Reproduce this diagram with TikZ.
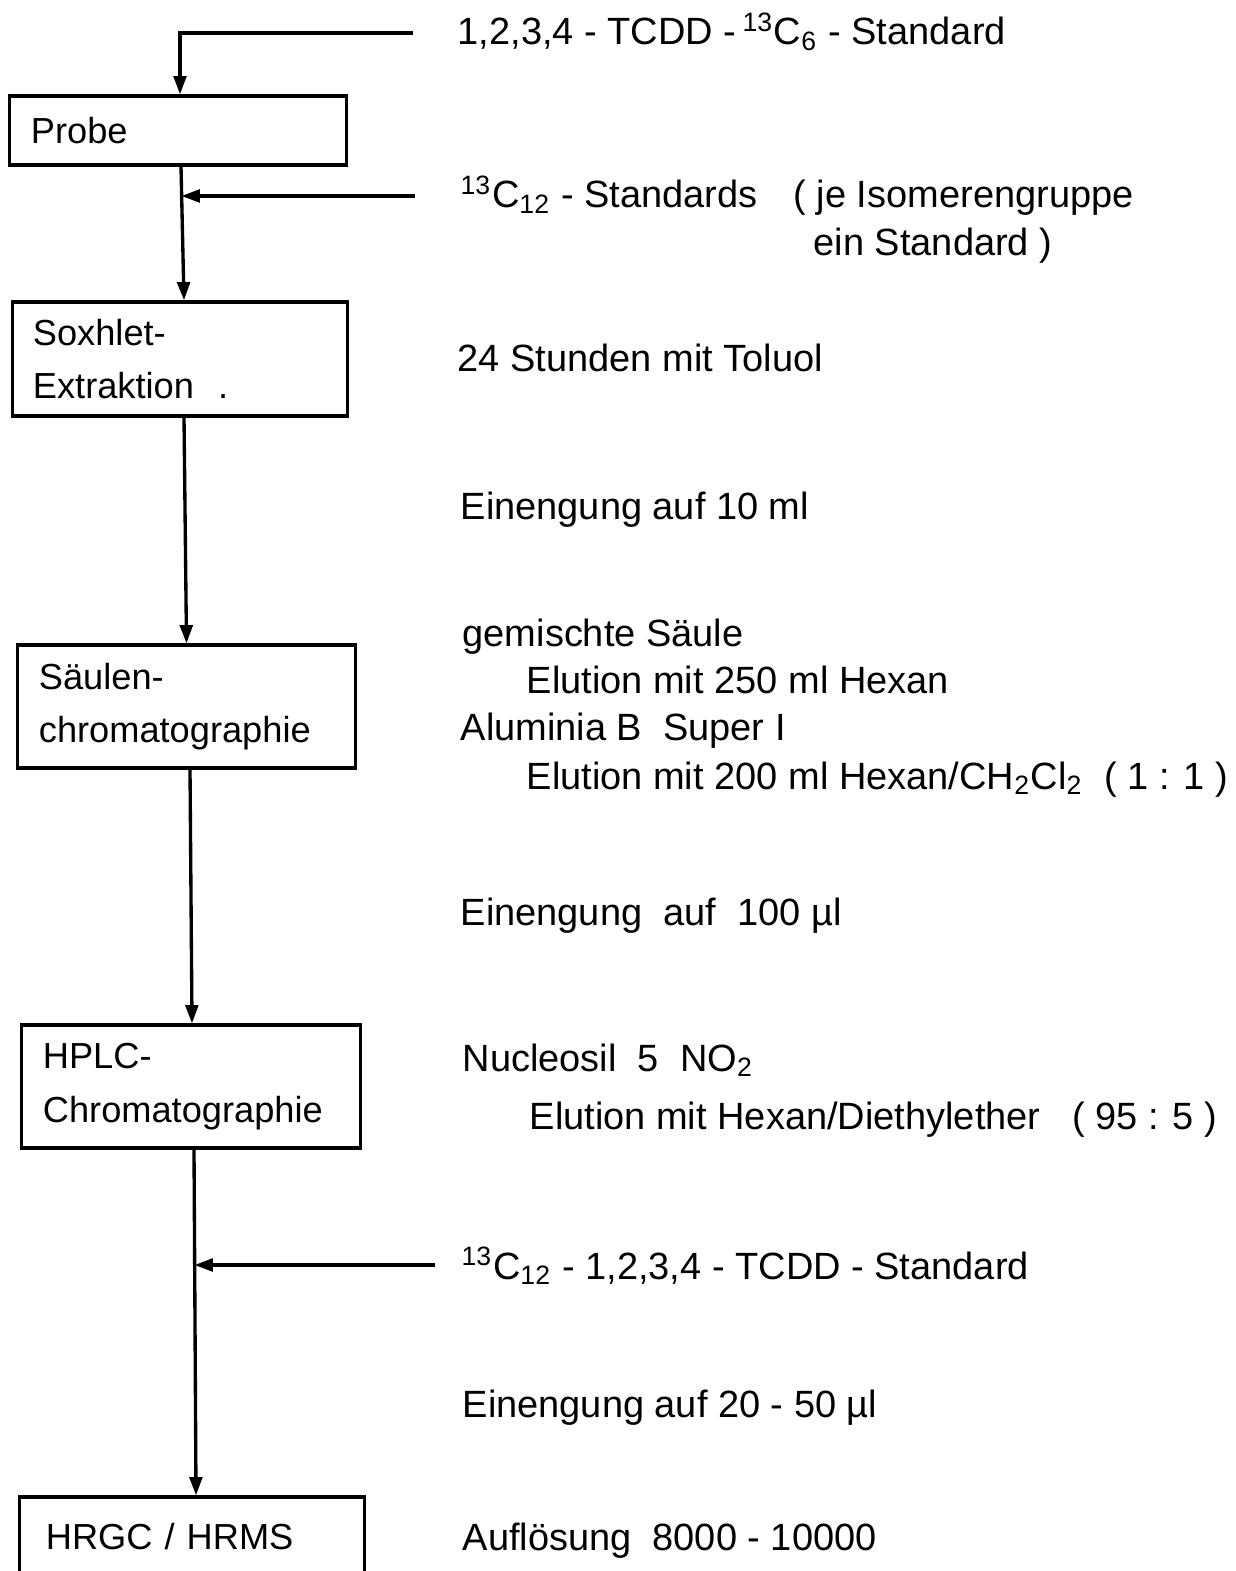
\documentclass[tikz,border=0pt]{standalone}
\usepackage{fontspec}
\setmainfont{Liberation Sans}
\usetikzlibrary{arrows.meta}
\tikzset{
	schritt/.style={draw,line width=0.9pt,align=left,inner xsep=0.21cm,inner ysep=0pt},
	info/.style={anchor=base west,inner sep=0pt,font=\fontsize{10.8pt}{14.8pt}\selectfont},
	pfeil/.style={line width=0.95pt,-{Triangle[width=3.6pt,length=5.2pt]}}
}
\newcommand{\iso}[2]{\textsuperscript{#1}C\textsubscript{#2}}

\begin{document}
\begin{tikzpicture}[x=0.01cm,y=-0.01cm,font=\fontsize{10.3pt}{15.2pt}\selectfont]
	\useasboundingbox (0,0) rectangle (1235,1571);
	\clip (0,0) rectangle (1235,1571);
	% Stufen
	\node[schritt,text width=2.94cm,minimum height=0.69cm] (probe) at (178,130.5) {Probe};
	\node[schritt,text width=2.94cm,minimum height=1.14cm,inner xsep=0.2cm] (soxhlet) at (180,359) {Soxhlet-\\Extraktion~~.};
	\node[schritt,text width=2.95cm,minimum height=1.23cm] (saeule) at (186.5,706.5) {Säulen-\\chromatographie};
	\node[schritt,text width=2.96cm,minimum height=1.23cm] (hplc) at (191,1086.5) {HPLC-\\Chromatographie};
	\node[schritt,text width=2.92cm,minimum height=0.80cm,inner xsep=0.26cm] (hrgc) at (192,1537) {HRGC / HRMS};
	% Angaben rechts
	\node[info] (std6) at (457,45) {1,2,3,4 - TCDD -\,\iso{13}{6} - Standard};
	\node[info] (std12) at (460,208) {\iso{13}{12} - Standards};
	\node[info] (isoA) at (793,208) {( je Isomerengruppe};
	\node[info] (isoB) at (813,256) {ein Standard )};
	\node[info] (toluol) at (457,372) {24 Stunden mit Toluol};
	\node[info] (einA) at (460,520) {Einengung auf 10 ml};
	\node[info] (gem) at (462,647) {gemischte Säule};
	\node[info] (eluA) at (526,694) {Elution mit 250 ml Hexan};
	\node[info] (alu) at (460,741) {Aluminia B~~Super I};
	\node[info] (eluB) at (526,789) {Elution mit 200 ml Hexan/CH\textsubscript{2}Cl\textsubscript{2}~~( 1 : 1 )};
	\node[info] (einB) at (460,925) {Einengung~~auf~~100 µl};
	\node[info] (nuc) at (462,1071) {Nucleosil~~5~~NO\textsubscript{2}};
	\node[info] (eluC) at (529,1129) {Elution mit Hexan/Diethylether~~~( 95 : 5 )};
	\node[info] (tcdd12) at (461,1279) {\iso{13}{12} - 1,2,3,4 - TCDD - Standard};
	\node[info] (einC) at (462,1417) {Einengung auf 20 - 50 µl};
	\node[info] (aufl) at (462,1550) {Auflösung~~8000 - 10000};
	% freie Enden der Zugaben, Punkte der Hauptlinie
	\coordinate (z1) at (413,33);
	\coordinate (z2) at (415,196);
	\coordinate (z3) at (435,1265);
	\coordinate (m1) at ([xshift=0.035cm]probe.south);
	\coordinate (m2) at ([xshift=0.035cm]hplc.south);
	% Pfeile
	\draw[pfeil] (z1) -| ([xshift=0.02cm]probe.north);
	\draw[pfeil] ([xshift=0.03cm]probe.south) -- ([xshift=0.04cm]soxhlet.north);
	\draw[pfeil] (z2) -- (z2 -| m1);
	\draw[pfeil] ([xshift=0.04cm]soxhlet.south) -- (saeule.north);
	\draw[pfeil] ([xshift=0.035cm]saeule.south) -- ([xshift=0.01cm]hplc.north);
	\draw[pfeil] ([xshift=0.03cm]hplc.south) -- ([xshift=0.04cm]hrgc.north);
	\draw[pfeil] (z3) -- (z3 -| m2);
\end{tikzpicture}
\end{document}
